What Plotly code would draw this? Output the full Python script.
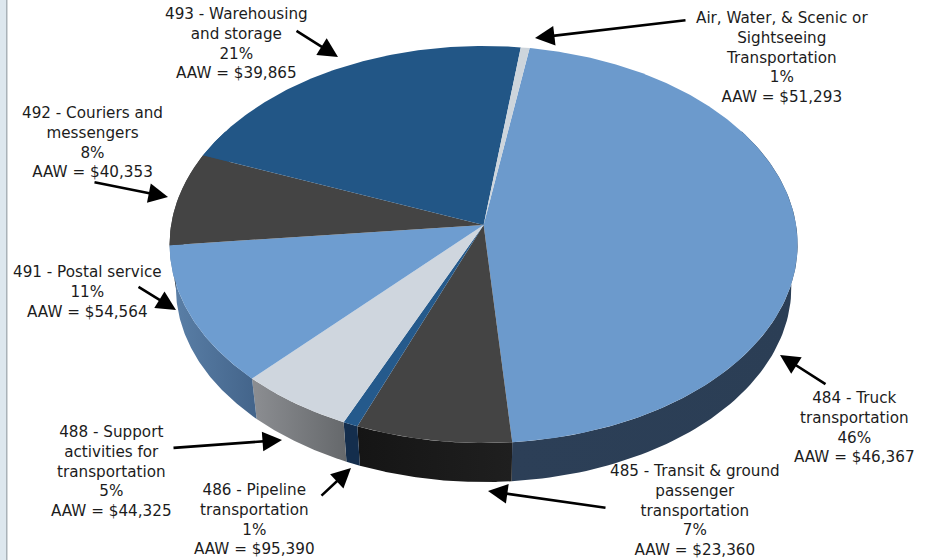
import numpy as np
import plotly.graph_objects as go

# ---- data ----
industries = ["484 - Truck<br>transportation",
              "485 - Transit &amp; ground<br>passenger<br>transportation",
              "486 - Pipeline<br>transportation",
              "488 - Support<br>activities for<br>transportation",
              "491 - Postal service",
              "492 - Couriers and<br>messengers",
              "493 - Warehousing<br>and storage",
              "Air, Water, &amp; Scenic or<br>Sightseeing<br>Transportation"]
shares = [46.1, 7.3, 0.7, 5.4, 11.3, 7.6, 21.1, 0.5]
share_labels = ["46%", "7%", "1%", "5%", "11%", "8%", "21%", "1%"]
aaw = ["$46,367", "$23,360", "$95,390", "$44,325", "$54,564", "$40,353", "$39,865", "$51,293"]

# ---- styling ----
top_colors = ["#6c9acc", "#444444", "#255a8c", "#cfd6de", "#6e9dd0", "#444444", "#225686", "#cdd5dc"]
wall_colors = [("#2b3e55", "#2c3f57"), ("#151515", "#1f1f1f"), ("#142e4d", "#142e4d"),
               ("#8c8e92", "#65686b"), ("#5b80a8", "#43648a"), ("#444444", "#444444"),
               ("#225686", "#225686"), ("#cdd5dc", "#cdd5dc")]
label_pos = [(854, 427), (695, 510), (254, 519), (111, 471), (87, 292), (92, 142), (236, 43), (782, 57)]
arrows = [((827, 385), (780, 355)), ((607, 508), (488, 491)), ((320, 497), (351, 468)),
          ((172, 448), (282, 440)), ((137, 286), (176, 310)), ((93, 182), (168, 197)),
          ((295, 30), (338, 57)), ((687, 20), (535, 38))]

# pie projection
CX, CY, A, C, K = 483.6, 225.0, 196.6, 312.5, 0.0982
START = 9.3
DEPTH_Y, DEPTH_S = 43.4, 0.98


def project(theta_deg, lower=False):
    t = np.radians(theta_deg)
    w = 1 + K * np.cos(t)
    x = C * np.sin(t) / w
    y = -A * np.cos(t) / w
    if lower:
        return CX + DEPTH_S * x, CY + DEPTH_Y + DEPTH_S * y
    return CX + x, CY + y


fractions = np.array(shares) / sum(shares) * 360
edges = START + np.concatenate([[0], np.cumsum(fractions)])

fig = go.Figure()

# side wall
for i in range(len(shares)):
    a, b = max(edges[i], 60), min(edges[i + 1], 300)
    if b <= a:
        continue
    th = np.linspace(a, b, 90)
    x1, y1 = project(th)
    x2, y2 = project(th[::-1], lower=True)
    c0, c1 = wall_colors[i]
    left, right = (c0, c1) if i >= 3 or i == 1 else (c1, c0)
    fig.add_trace(go.Scatter(x=np.r_[x1, x2], y=np.r_[y1, y2], mode="lines", fill="toself",
                             line=dict(width=0), hoverinfo="skip", showlegend=False,
                             fillgradient=dict(type="horizontal", colorscale=[[0, left], [1, right]])))

# top surface
for i in range(len(shares)):
    th = np.linspace(edges[i], edges[i + 1], max(3, int(fractions[i] * 2)))
    x, y = project(th)
    fig.add_trace(go.Scatter(x=np.r_[CX, x, CX], y=np.r_[CY, y, CY], mode="lines", fill="toself",
                             line=dict(width=0), fillcolor=top_colors[i], showlegend=False,
                             name=industries[i].replace("<br>", " "), hoverinfo="name"))

annotations = []
for i in range(len(shares)):
    annotations.append(dict(x=label_pos[i][0], y=label_pos[i][1], xref="x", yref="y", showarrow=False,
                            text=f"{industries[i]}<br>{share_labels[i]}<br>AAW = {aaw[i]}",
                            align="center", xanchor="center", yanchor="middle",
                            font=dict(family="DejaVu Sans", size=15.2, color="#1c1c1c")))
    (tx, ty), (hx, hy) = arrows[i]
    annotations.append(dict(x=hx, y=hy, ax=tx, ay=ty, xref="x", yref="y", axref="x", ayref="y",
                            text="", showarrow=True, arrowhead=2, arrowsize=1.5, arrowwidth=2.6,
                            arrowcolor="#000000", standoff=0, startstandoff=0))

shapes = [dict(type="rect", x0=0, x1=6, y0=0, y1=560, xref="x", yref="y", line_width=0, fillcolor="#dde7ee", layer="below"),
          dict(type="rect", x0=6, x1=7.5, y0=0, y1=560, xref="x", yref="y", line_width=0, fillcolor="#a9b2b8", layer="below")]

fig.update_layout(width=927, height=560, margin=dict(l=0, r=0, t=0, b=0),
                  paper_bgcolor="white", plot_bgcolor="white", showlegend=False,
                  xaxis=dict(range=[0, 927], visible=False, fixedrange=True),
                  yaxis=dict(range=[560, 0], visible=False, fixedrange=True),
                  annotations=annotations, shapes=shapes)
fig.write_html("out.html", config={"displayModeBar": False},
               post_script="document.body.style.margin='0';document.documentElement.style.overflow='hidden';")
